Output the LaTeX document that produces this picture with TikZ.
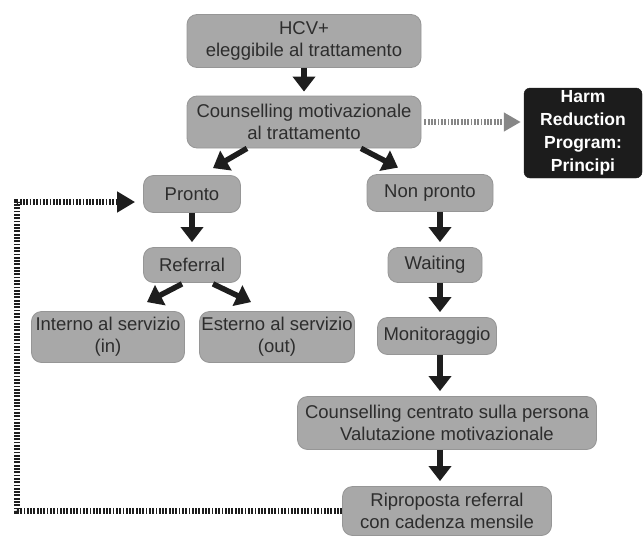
\documentclass[tikz,border=0pt]{standalone}
\usepackage{fontspec}
\setmainfont{Liberation Sans}
\usetikzlibrary{arrows.meta,calc}
\definecolor{boxfill}{RGB}{168,168,168}
\definecolor{boxline}{RGB}{150,150,150}
\definecolor{txt}{RGB}{45,45,45}
\definecolor{darkbox}{RGB}{28,28,28}
\definecolor{dotgray}{RGB}{135,135,135}
\definecolor{arrowblk}{RGB}{30,30,30}
\begin{document}
\begin{tikzpicture}[x=1pt,y=-1pt,
  box/.style={draw=boxline, line width=0.8pt, fill=boxfill, rounded corners=10pt,
    inner sep=0pt, align=center, text=txt, font=\fontsize{18.5}{22}\selectfont},
  darknode/.style={draw=darkbox, fill=darkbox, rounded corners=6pt, inner sep=0pt,
    align=center, text=white, font=\bfseries\fontsize{17.5}{23}\selectfont},
  bigarrow/.style={line width=5.5pt, draw=arrowblk, -{Triangle[length=15pt,width=22pt]}},
  loopline/.style={line width=6.5pt, draw=arrowblk, dash pattern=on 1.8pt off 1.5pt,
    line join=miter, -{Triangle[length=18pt,width=20pt]}},
  grayline/.style={line width=6.5pt, draw=dotgray, dash pattern=on 1.8pt off 1.5pt,
    -{Triangle[length=17pt,width=18pt]}}
]
\useasboundingbox (0,0) rectangle (644,535);

\node[box, minimum width=234pt, minimum height=53pt] (hcv) at (304,41) {HCV+\\eleggibile al trattamento};
\node[box, minimum width=234pt, minimum height=52pt] (cm) at (304,122) {Counselling motivazionale\\al trattamento};
\node[darknode, minimum width=118pt, minimum height=90pt] (harm) at (583,133) {Harm\\Reduction\\Program:\\Principi};
\node[box, minimum width=97pt, minimum height=37pt] (pronto) at (192,194) {Pronto};
\node[box, minimum width=126pt, minimum height=37pt] (nonpronto) at (430,193) {Non pronto};
\node[box, minimum width=97pt, minimum height=35pt] (referral) at (192,265) {Referral};
\node[box, minimum width=94pt, minimum height=35pt] (waiting) at (435,265) {Waiting};
\node[box, minimum width=153pt, minimum height=51pt] (interno) at (108,337) {Interno al servizio\\(in)};
\node[box, minimum width=155pt, minimum height=51pt] (esterno) at (277,337) {Esterno al servizio\\(out)};
\node[box, minimum width=119pt, minimum height=37pt] (monit) at (437,336) {Monitoraggio};
\node[box, minimum width=299pt, minimum height=53pt] (ccp) at (447,423) {Counselling centrato sulla persona\\Valutazione motivazionale};
\node[box, minimum width=209pt, minimum height=49pt] (rip) at (447,511) {Riproposta referral\\con cadenza mensile};

\coordinate (colx) at (440,0);
\coordinate (lb) at (17,511);
\coordinate (lt) at (17,202);

% black arrows
\draw[bigarrow, shorten >=4pt] (hcv.south) -- (cm.north);
\draw[bigarrow] ([xshift=-57pt]cm.south) -- ([xshift=21pt,yshift=7pt]pronto.north);
\draw[bigarrow] ([xshift=57pt]cm.south) -- ([xshift=-32pt,yshift=6.5pt]nonpronto.north);
\draw[bigarrow, shorten >=5pt] (pronto.south) -- (referral.north);
\draw[bigarrow] ([xshift=-10pt,yshift=-1pt]referral.south) -- ([xshift=39pt,yshift=9pt]interno.north);
\draw[bigarrow] ([xshift=21pt,yshift=-1pt]referral.south) -- ([xshift=-26pt,yshift=9pt]esterno.north);
\draw[bigarrow, shorten >=5pt] (nonpronto.south -| colx) -- (waiting.north -| colx);
\draw[bigarrow, shorten >=5pt] (waiting.south -| colx) -- (monit.north -| colx);
\draw[bigarrow, shorten >=5pt] (monit.south -| colx) -- (ccp.north -| colx);
\draw[bigarrow, shorten >=5pt] (ccp.south -| colx) -- (rip.north -| colx);

% dotted connectors
\draw[grayline, shorten <=3pt, shorten >=3pt] (cm.east) -- (cm.east -| harm.west);
\draw[loopline, shorten >=8pt] (rip.west) -- (lb) -- (lt) -- ([yshift=-8pt]pronto.west);
\end{tikzpicture}
\end{document}
